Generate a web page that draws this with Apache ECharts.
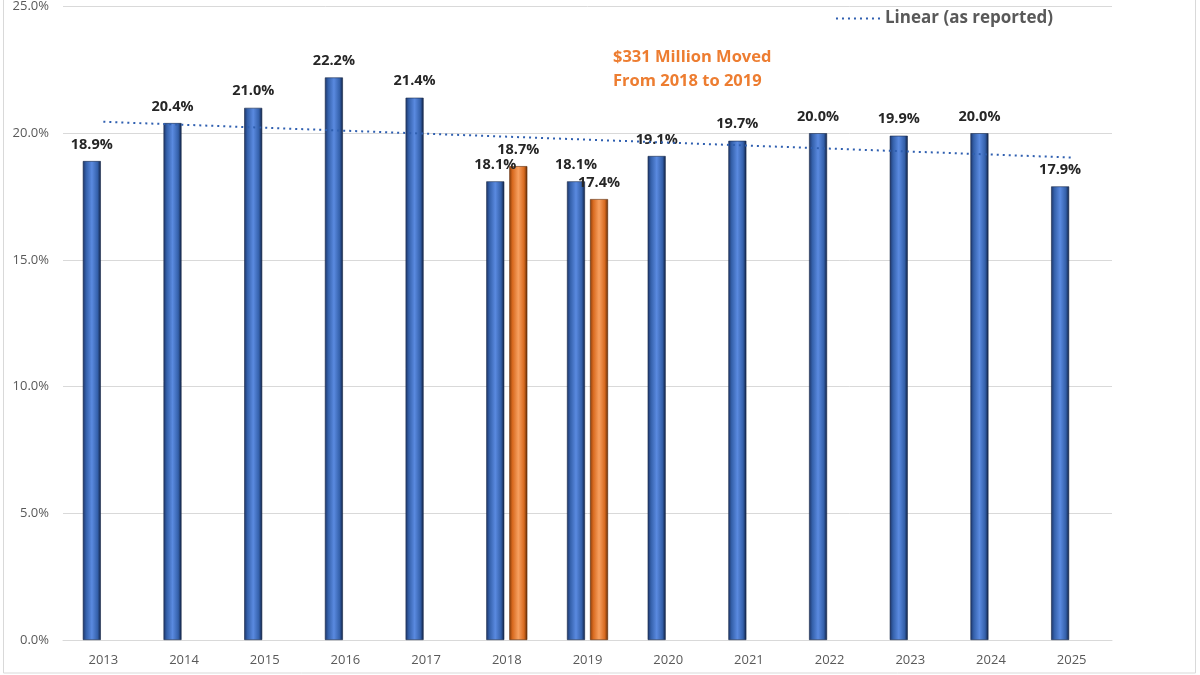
<!DOCTYPE html>
<html><head><meta charset="utf-8">
<script src="https://cdn.jsdelivr.net/npm/echarts@6/dist/echarts.min.js"></script>
<style>html,body{margin:0;padding:0;background:#fff}#c{width:1200px;height:675px}</style>
</head><body><div id="c"></div>
<script>
const years = ['2013','2014','2015','2016','2017','2018','2019','2020','2021','2022','2023','2024','2025'];
const reported = [18.9, 20.4, 21.0, 22.2, 21.4, 18.1, 18.1, 19.1, 19.7, 20.0, 19.9, 20.0, 17.9];
const moved = [null, null, null, null, null, 18.7, 17.4, null, null, null, null, null, null];
const trendYears = ['2013', '2025'];
const trendValues = [20.45, 19.04];
const yTicks = [0, 5, 10, 15, 20, 25];
const annotation = ['$331 Million Moved', 'From 2018 to 2019'];

const font2 = '"Open Sans", Lato, sans-serif';
const blueGrad = {type:'linear',x:0,y:0,x2:1,y2:0,colorStops:[
  {offset:0,color:'#1d3466'},{offset:0.18,color:'#3460aa'},{offset:0.5,color:'#5a8ae0'},{offset:0.82,color:'#3460aa'},{offset:1,color:'#0f1f40'}]};
const orangeGrad = {type:'linear',x:0,y:0,x2:1,y2:0,colorStops:[
  {offset:0,color:'#8a3d0a'},{offset:0.18,color:'#d86a1f'},{offset:0.5,color:'#f7a060'},{offset:0.82,color:'#d86a1f'},{offset:1,color:'#5e2a06'}]};

const chart = echarts.init(document.getElementById('c'), null, {renderer:'canvas'});
chart.setOption({
  animation:false,
  backgroundColor:'#fff',
  grid:{left:63, right:88, top:5, bottom:35, containLabel:false},
  legend:{
    data:[{name:'Linear (as reported)'}],
    right:142, top:5, itemWidth:44, itemHeight:10, itemGap:7,
    itemStyle:{opacity:0},
    textStyle:{fontFamily:font2, fontSize:17, fontWeight:'bold', color:'#595959'}
  },
  xAxis:{
    type:'category', data:years,
    axisLine:{lineStyle:{color:'#d9d9d9', width:1}},
    axisTick:{show:false},
    axisLabel:{fontFamily:font2, fontSize:13, color:'#595959', margin:14}
  },
  yAxis:{
    type:'value', min:0, max:25, interval:5,
    axisLine:{show:false}, axisTick:{show:false},
    splitLine:{lineStyle:{color:'#d9d9d9', width:1}},
    axisLabel:{fontFamily:font2, fontSize:13, color:'#595959', margin:14,
      formatter:v=>v.toFixed(1)+'%'}
  },
  series:[
    {name:'Reported', type:'bar', data:reported, barWidth:18, barGap:'28%',
      itemStyle:{color:blueGrad, borderColor:'#1a2a4a', borderWidth:0.6},
      label:{show:true, position:'top', distance:9, fontFamily:font2, fontSize:14.5, fontWeight:'bold', color:'#262626',
        formatter:p=>p.value.toFixed(1)+'%'}},
    {name:'Moved', type:'bar', data:moved, barWidth:18,
      itemStyle:{color:orangeGrad, borderColor:'#5e2a06', borderWidth:0.6},
      label:{show:true, position:'top', distance:9, fontFamily:font2, fontSize:14.5, fontWeight:'bold', color:'#262626',
        formatter:p=>p.value==null?'':p.value.toFixed(1)+'%'}},
    {name:'Linear (as reported)', type:'line', symbol:'none', z:5,
      data:trendYears.map((y,i)=>[y, trendValues[i]]),
      lineStyle:{color:'#2f5fb0', width:2, type:[2,4]},
      itemStyle:{color:'#2f5fb0'}}
  ],
  graphic:[
    {type:'rect', shape:{x:3.5, y:-2, width:1192, height:675}, style:{fill:'none', stroke:'#d9d9d9', lineWidth:1}, silent:true},
    {type:'text', left:613, top:45, style:{text:annotation.join('\n'), fontFamily:font2, fontSize:16.5, fontWeight:'bold', fill:'#ed7d31', lineHeight:24}}
  ]
});
</script></body></html>
